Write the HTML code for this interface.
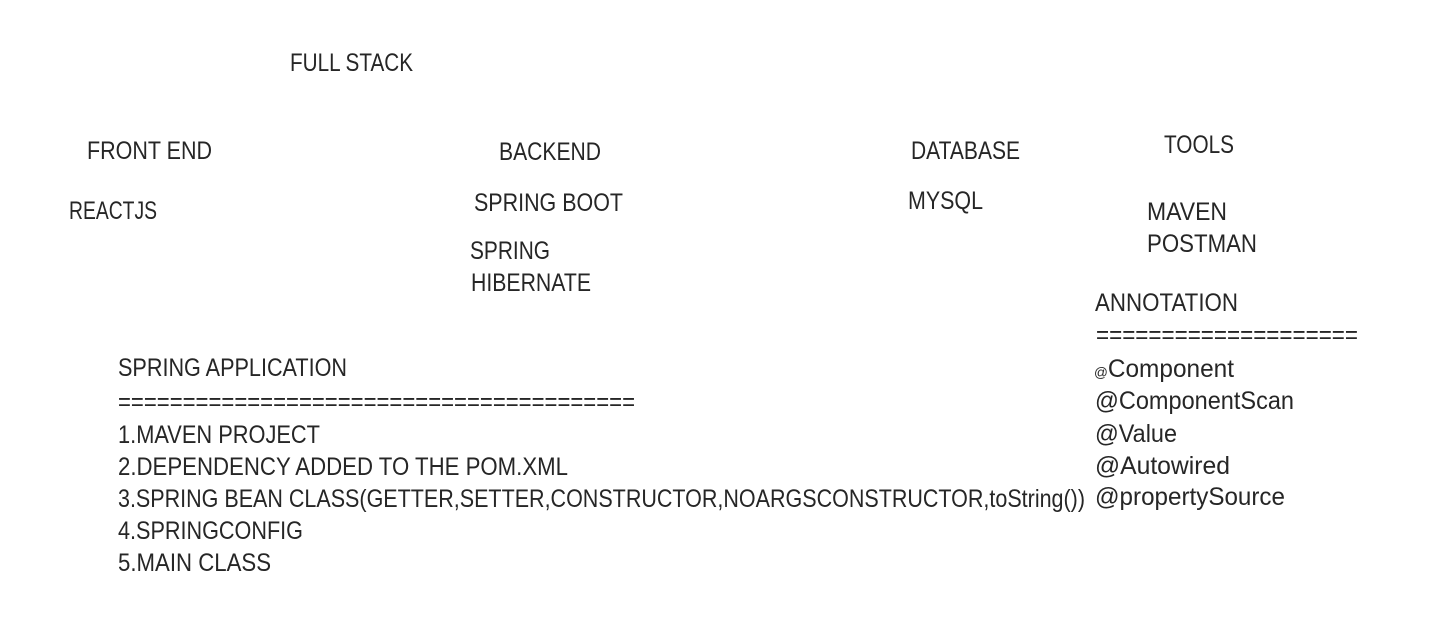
<!DOCTYPE html>
<html><head><meta charset="utf-8"><style>
html,body{margin:0;padding:0;background:#fff;}
svg{display:block}
text{font-family:"Liberation Sans",sans-serif;font-size:25px;fill:#262626;}
</style></head><body>
<svg width="1443" height="633" viewBox="0 0 1443 633" xmlns="http://www.w3.org/2000/svg">
<rect width="1443" height="633" fill="#fff"/>
<g>
<text x="290" y="71" textLength="123" lengthAdjust="spacingAndGlyphs">FULL STACK</text>
<text x="87" y="159" textLength="125" lengthAdjust="spacingAndGlyphs">FRONT END</text>
<text x="499" y="160" textLength="102" lengthAdjust="spacingAndGlyphs">BACKEND</text>
<text x="911" y="159" textLength="109" lengthAdjust="spacingAndGlyphs">DATABASE</text>
<text x="1164" y="153" textLength="70" lengthAdjust="spacingAndGlyphs">TOOLS</text>
<text x="69" y="219" textLength="88" lengthAdjust="spacingAndGlyphs">REACTJS</text>
<text x="474" y="211" textLength="149" lengthAdjust="spacingAndGlyphs">SPRING BOOT</text>
<text x="908" y="209" textLength="75" lengthAdjust="spacingAndGlyphs">MYSQL</text>
<text x="1147" y="220" textLength="80" lengthAdjust="spacingAndGlyphs">MAVEN</text>
<text x="1147" y="252" textLength="110" lengthAdjust="spacingAndGlyphs">POSTMAN</text>
<text x="470" y="259" textLength="80" lengthAdjust="spacingAndGlyphs">SPRING</text>
<text x="471" y="291" textLength="120" lengthAdjust="spacingAndGlyphs">HIBERNATE</text>
<text x="1095" y="311" textLength="143" lengthAdjust="spacingAndGlyphs">ANNOTATION</text>
<text x="1096" y="343" textLength="262" lengthAdjust="spacingAndGlyphs">====================</text>
<text x="1094" y="377" textLength="140" lengthAdjust="spacingAndGlyphs"><tspan font-size="14">@</tspan>Component</text>
<text x="1095" y="409" textLength="199" lengthAdjust="spacingAndGlyphs">@ComponentScan</text>
<text x="1095" y="442" textLength="82" lengthAdjust="spacingAndGlyphs">@Value</text>
<text x="1095" y="474" textLength="135" lengthAdjust="spacingAndGlyphs">@Autowired</text>
<text x="1095" y="505" textLength="190" lengthAdjust="spacingAndGlyphs">@propertySource</text>
<text x="118" y="376" textLength="229" lengthAdjust="spacingAndGlyphs">SPRING APPLICATION</text>
<text x="118" y="410" textLength="517" lengthAdjust="spacingAndGlyphs">========================================</text>
<text x="118" y="443" textLength="202" lengthAdjust="spacingAndGlyphs">1.MAVEN PROJECT</text>
<text x="118" y="475" textLength="450" lengthAdjust="spacingAndGlyphs">2.DEPENDENCY ADDED TO THE POM.XML</text>
<text x="118" y="507" textLength="967" lengthAdjust="spacingAndGlyphs">3.SPRING BEAN CLASS(GETTER,SETTER,CONSTRUCTOR,NOARGSCONSTRUCTOR,toString())</text>
<text x="118" y="539" textLength="185" lengthAdjust="spacingAndGlyphs">4.SPRINGCONFIG</text>
<text x="118" y="571" textLength="153" lengthAdjust="spacingAndGlyphs">5.MAIN CLASS</text>
</g>
</svg>
</body></html>
